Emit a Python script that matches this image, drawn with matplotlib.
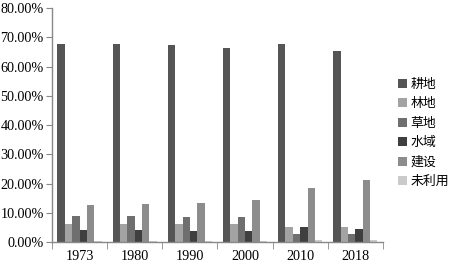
import numpy as np
import matplotlib.pyplot as plt
from matplotlib.ticker import FuncFormatter, FixedLocator

years = ["1973", "1980", "1990", "2000", "2010", "2018"]
land_types = ["耕地", "林地", "草地", "水域", "建设", "未利用"]

# percentages
gengdi = [67.7, 67.7, 67.4, 66.4, 67.6, 65.4]
lindi = [6.2, 6.2, 6.2, 6.0, 5.0, 5.0]
caodi = [8.9, 8.9, 8.7, 8.7, 2.9, 2.9]
shuiyu = [4.0, 4.0, 3.6, 3.6, 5.2, 4.6]
jianshe = [12.6, 12.9, 13.2, 14.2, 18.5, 21.2]
weiliyong = [0.3, 0.3, 0.3, 0.3, 0.6, 0.6]

series = [gengdi, lindi, caodi, shuiyu, jianshe, weiliyong]
colors = ["#555555", "#a3a3a3", "#6f6f6f", "#3f3f3f", "#8c8c8c", "#cacaca"]

plt.rcParams['font.family'] = ['Liberation Serif', 'Noto Sans CJK SC']

fig = plt.figure(figsize=(4.54, 2.68), dpi=100)
ax = fig.add_axes([0.1145, 0.097, 0.729, 0.873])

x = np.arange(len(years))
n = len(series)
w = 0.8 / n
for i, (vals, c) in enumerate(zip(series, colors)):
    ax.bar(x - 0.4 + w * (i + 0.5), vals, width=w, color=c, label=land_types[i])

ax.set_xlim(-0.5, len(years) - 0.5)
ax.set_ylim(0, 80)
ax.set_yticks(np.arange(0, 81, 10))
ax.yaxis.set_major_formatter(FuncFormatter(lambda v, p: f"{v:.2f}%"))
ax.set_xticks(x)
ax.set_xticklabels(years)
ax.xaxis.set_minor_locator(FixedLocator(np.arange(-0.5, len(years), 1.0)))
ax.tick_params(axis='x', which='major', length=0, pad=6, labelsize=10.2)
ax.tick_params(axis='x', which='minor', length=5, color='#888888', direction='out')
ax.tick_params(axis='y', length=4, color='#888888', labelsize=10.2, pad=2)

for s in ['top', 'right']:
    ax.spines[s].set_visible(False)
for s in ['left', 'bottom']:
    ax.spines[s].set_color('#888888')
    ax.spines[s].set_linewidth(1)

leg = ax.legend(loc='center left', bbox_to_anchor=(1.0, 0.466), frameon=False,
                prop={'family': ['Noto Sans CJK SC'], 'size': 9.3},
                handlelength=0.7, handleheight=0.7, handletextpad=0.3,
                labelspacing=0.5, borderaxespad=0.75)

fig.savefig("out.png", dpi=100)
